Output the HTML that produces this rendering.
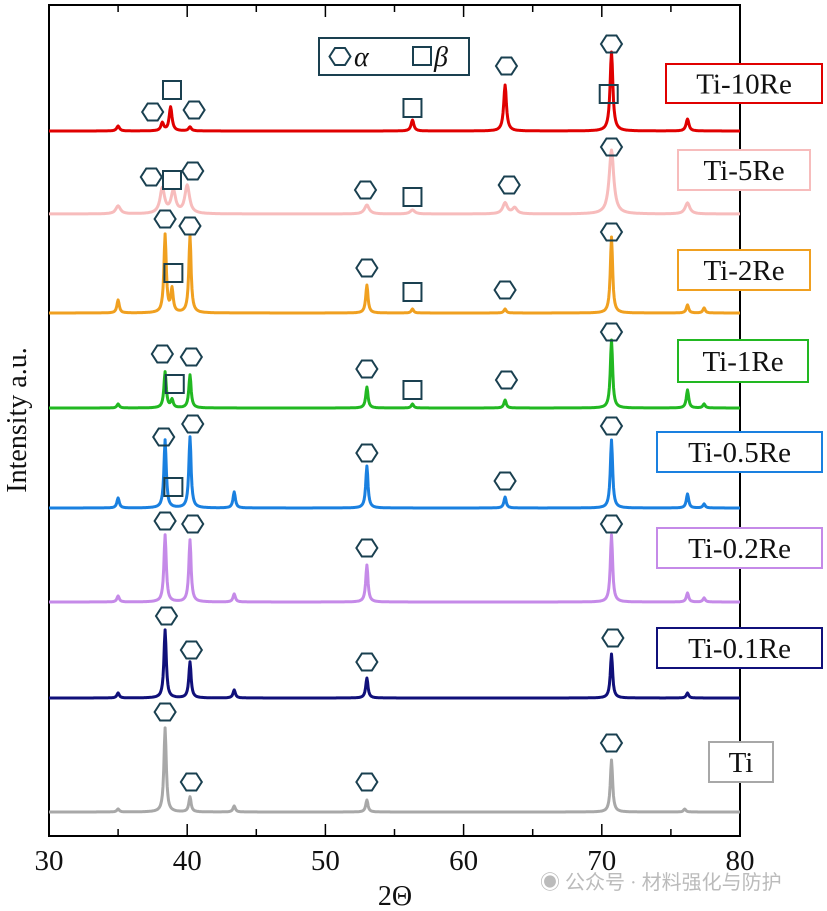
<!DOCTYPE html>
<html><head><meta charset="utf-8"><style>
body{margin:0;background:#fff;width:827px;height:911px;overflow:hidden}
svg{display:block}
text{font-family:"Liberation Serif",serif}
</style></head><body>
<svg id="chart" width="827" height="911"></svg>
<script>
const NS="http://www.w3.org/2000/svg";
const samples=["Ti-10Re","Ti-5Re","Ti-2Re","Ti-1Re","Ti-0.5Re","Ti-0.2Re","Ti-0.1Re","Ti"];
const colors=["#e00000","#f7bcbc","#f0a020","#22b822","#1a80e0","#c58ae8","#10107a","#a8a8a8"];
const baselines=[131,214,313,408,508,602,698,812];
const peakPos=[
[35,38.2,38.8,40.2,56.3,63,70.7,76.2],
[35,38.2,39,40,53,56.3,63,63.7,70.7,76.2],
[35,38.4,38.9,40.2,53,56.3,63,70.7,76.2,77.4],
[35,38.4,38.9,40.2,53,56.3,63,70.7,76.2,77.4],
[35,38.4,40.2,43.4,53,63,70.7,76.2,77.4],
[35,38.4,40.2,43.4,53,70.7,76.2,77.4],
[35,38.4,40.2,43.4,53,70.7,76.2],
[35,38.4,40.2,43.4,53,70.7,76]];
const peakHeights=[
[5,8,24,4,11,46,79,12],
[8,25,22,28,9,4,11,6,64,11],
[13,78,23,77,28,4,4,76,8,5],
[4,36,8,33,21,4,8,68,18,4],
[10,68,71,16,42,11,68,14,4],
[6,67,62,8,37,67,9,4],
[5,68,36,8,20,44,5],
[3,84,15,6,12,52,3]];
const peakWidths=[0.24,0.4,0.2,0.2,0.2,0.2,0.2,0.2];
const labelBoxes=[[666,64,156,39],[678,150,132,40],[678,250,132,40],[678,340,130,42],[657,432,165,40],[657,528,165,40],[657,628,165,40],[709,742,64,40]];
const markers=[
["h",37.5,112],["s",38.9,90],["h",40.5,110],["s",56.3,108],["h",63.1,66],["h",70.7,44],["s",70.5,94],
["h",37.4,177],["s",38.9,180],["h",40.4,171],["h",52.9,190],["s",56.3,197],["h",63.3,185],["h",70.7,147],
["h",38.4,219],["h",40.2,226],["s",39.0,273],["h",53.0,268],["s",56.3,292],["h",63.0,290],["h",70.7,232],
["h",38.2,354],["h",40.3,357],["s",39.1,384],["h",53.0,369],["s",56.3,390],["h",63.1,380],["h",70.7,332],
["h",38.3,437],["h",40.4,424],["s",39.0,487],["h",53.0,453],["h",63.0,481],["h",70.7,426],
["h",38.4,521],["h",40.4,524],["h",53.0,548],["h",70.7,524],
["h",38.5,616],["h",40.3,650],["h",53.0,662],["h",70.8,638],
["h",38.4,712],["h",40.3,782],["h",53.0,782],["h",70.7,743]];
const xTicks=[30,40,50,60,70,80];
const X0=49,X1=740,Y0=5,Y1=836;
const xs=d=>X0+(d-30)/50*(X1-X0);
const svg=document.getElementById('chart');
function el(t,a,p){const e=document.createElementNS(NS,t);for(const k in a)e.setAttribute(k,a[k]);(p||svg).appendChild(e);return e;}
// frame first
const fr=el('rect',{x:X0,y:Y0,width:X1-X0,height:Y1-Y0,fill:'none',stroke:'#000','stroke-width':2});


for(let a=30;a<=80;a+=5){
  const x=xs(a),L=(a%10===0)?12:7;
  el('line',{x1:x,y1:Y1,x2:x,y2:Y1-L,stroke:'#000','stroke-width':1.5});
  el('line',{x1:x,y1:Y0,x2:x,y2:Y0+L,stroke:'#000','stroke-width':1.5});
}
samples.forEach((s,i)=>{
  let d="";
  for(let a=30;a<=80.001;a+=0.05){
    let v=0;
    peakPos[i].forEach((p,j)=>{const w=peakWidths[i];v+=peakHeights[i][j]/(1+Math.pow((a-p)/w*2,2));});
    d+=(d?"L":"M")+xs(a).toFixed(1)+","+(baselines[i]-v).toFixed(1);
  }
  const path=el('path',{d:d,fill:'none',stroke:colors[i],'stroke-width':3,'stroke-linejoin':'round'});
  
  
});
samples.forEach((s,i)=>{
  const b=labelBoxes[i];
  const r=el('rect',{x:b[0],y:b[1],width:b[2],height:b[3],fill:'#fff',stroke:colors[i],'stroke-width':2});
  
  
  const t=el('text',{x:b[0]+b[2]/2,y:b[1]+b[3]/2+10,'text-anchor':'middle','font-size':29,fill:'#111'});
  t.textContent=s;
  
  
});
function hex(cx,cy){const w=10.5,h=8.5,q=5;return `M${cx-w},${cy}L${cx-q},${cy-h}L${cx+q},${cy-h}L${cx+w},${cy}L${cx+q},${cy+h}L${cx-q},${cy+h}Z`;}
markers.forEach(m=>{
  const cx=xs(m[1]),cy=m[2];
  let e;
  if(m[0]==="h") e=el('path',{d:hex(cx,cy),fill:'none',stroke:'#1a4050','stroke-width':2});
  else e=el('rect',{x:cx-9,y:cy-9,width:18,height:18,fill:'none',stroke:'#1a4050','stroke-width':2});
  
  
});
xTicks.forEach(v=>{
  const t=el('text',{x:xs(v),y:870,'text-anchor':'middle','font-size':29,fill:'#111'});
  t.textContent=v;
  
  
});
const xt=el('text',{x:395,y:905,'text-anchor':'middle','font-size':28,fill:'#111'});
xt.textContent="2Θ";


const yt=el('text',{x:0,y:0,'text-anchor':'middle','font-size':28,fill:'#111',transform:'translate(26,420) rotate(-90)'});
yt.textContent="Intensity a.u.";


const lg=el('g',{});


el('rect',{x:319,y:38,width:150,height:37,fill:'#fff',stroke:'#1a4050','stroke-width':2},lg);
el('path',{d:hex(340,56.5),fill:'none',stroke:'#1a4050','stroke-width':2},lg);
const la=el('text',{x:354,y:66,'font-size':28,'font-style':'italic',fill:'#111'},lg);la.textContent="α";
el('rect',{x:413,y:47,width:18,height:18,fill:'none',stroke:'#1a4050','stroke-width':2},lg);
const lb=el('text',{x:434,y:66,'font-size':28,'font-style':'italic',fill:'#111'},lg);lb.textContent="β";
const wm=el('text',{x:540,y:889,'font-size':20,fill:'#bbb','font-family':'"Liberation Sans","Noto Sans CJK SC",sans-serif'});
wm.textContent="◉ 公众号 · 材料强化与防护";


</script>
</body></html>
